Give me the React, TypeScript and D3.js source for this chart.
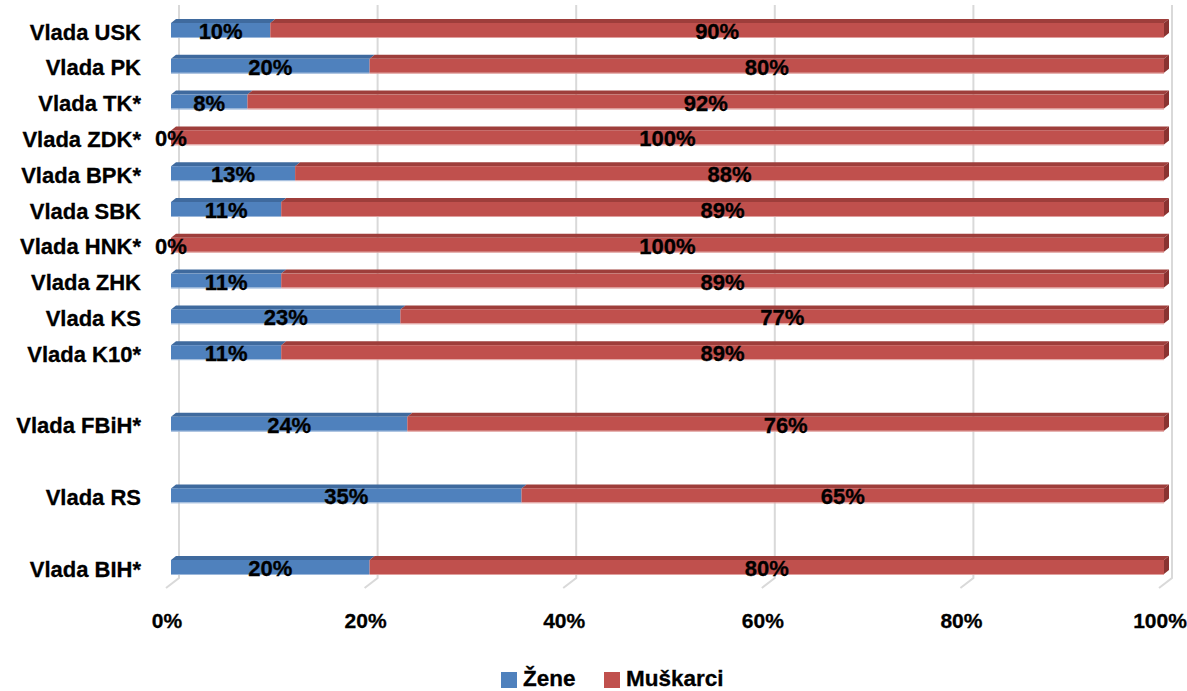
import React from "react";
import * as d3 from "d3";

const categories = [
  "Vlada USK", "Vlada PK", "Vlada TK*", "Vlada ZDK*", "Vlada BPK*", "Vlada SBK",
  "Vlada HNK*", "Vlada ZHK", "Vlada KS", "Vlada K10*", "", "Vlada FBiH*", " ",
  "Vlada RS", "  ", "Vlada BIH*",
];
const zene: (number | null)[] = [10, 20, 7.7, 0, 12.5, 11.1, 0, 11.1, 23.1, 11.1, null, 23.8, null, 35.3, null, 20];
const muskarci: (number | null)[] = [90, 80, 92.3, 100, 87.5, 88.9, 100, 88.9, 76.9, 88.9, null, 76.2, null, 64.7, null, 80];
const ticks = [0, 20, 40, 60, 80, 100];
const seriesNames = ["Žene", "Muškarci"];

const W = 1187;
const H = 691;
const FONT = "'Liberation Sans', Arial, sans-serif";

const colors = [
  { front: "#4F81BD", top: "#3F6A9E", side: "#35598A", edge: "#9BB7DA" },
  { front: "#C0504D", top: "#9E3E3B", side: "#8A3331", edge: "#E0A09E" },
];

export default function App() {
  const x = d3.scaleLinear().domain([0, 100]).range([179, 1172]);
  const y = d3.scaleBand<string>().domain(categories).range([12.1, 584.9]).padding(0);
  const frontDx = -8;
  const barH = 14;
  const depthX = 5;
  const depthY = -4;
  const gridTop = 5;
  const gridBottom = 578;

  const bars: React.ReactNode[] = [];
  const labels: React.ReactNode[] = [];
  categories.forEach((c, i) => {
    const zv = zene[i];
    const mv = muskarci[i];
    if (zv == null || mv == null) return;
    const cy = (y(c) as number) + y.bandwidth() / 2;
    const y0 = cy - barH / 2;
    const segs = [
      { v0: 0, v1: zv, col: colors[0], val: zv },
      { v0: zv, v1: zv + mv, col: colors[1], val: mv },
    ];
    segs.forEach((s, k) => {
      const xa = x(s.v0) + frontDx;
      const xb = x(Math.min(100, s.v1)) + frontDx;
      if (xb - xa > 0.01) {
        bars.push(
          <path
            key={`t${i}-${k}`}
            d={`M${xa},${y0} L${xa + depthX},${y0 + depthY} L${xb + depthX},${y0 + depthY} L${xb},${y0} Z`}
            fill={s.col.top}
          />
        );
        bars.push(
          <rect key={`f${i}-${k}`} x={xa} y={y0} width={xb - xa} height={barH} fill={s.col.front} />
        );
        bars.push(
          <line key={`e${i}-${k}`} x1={xa} x2={xb} y1={y0 + barH + 0.5} y2={y0 + barH + 0.5} stroke={s.col.edge} strokeWidth={1} />
        );
        if (k === 1) {
          bars.push(
            <path
              key={`s${i}-${k}`}
              d={`M${xb},${y0} L${xb + depthX},${y0 + depthY} L${xb + depthX},${y0 + depthY + barH} L${xb},${y0 + barH} Z`}
              fill={s.col.side}
            />
          );
        }
      }
      labels.push(
        <text
          key={`l${i}-${k}`}
          x={(xa + xb) / 2}
          y={cy + 1.5}
          textAnchor="middle"
          dominantBaseline="central"
          fontFamily={FONT}
          fontWeight="bold"
          fontSize={22}
          fill="#000"
          stroke="#000"
          strokeWidth={0.3}
        >
          {`${Math.round(s.val)}%`}
        </text>
      );
    });
  });

  return (
    <svg
      width={W}
      height={H}
      viewBox={`0 0 ${W} ${H}`}
      style={{ position: "absolute", left: 0, top: 0, background: "#fff" }}
    >
      <rect width={W} height={H} fill="#fff" />
      {ticks.map((t) => (
        <g key={`g${t}`}>
          <path
            d={`M${x(t)},${gridTop} L${x(t)},${gridBottom} L${x(t) - 13},${gridBottom + 10}`}
            fill="none"
            stroke="#D9D9D9"
            strokeWidth={2}
          />
          <text
            x={x(t) - 12}
            y={620}
            textAnchor="middle"
            dominantBaseline="central"
            fontFamily={FONT}
            fontWeight="bold"
            fontSize={21}
            fill="#000"
            stroke="#000"
            strokeWidth={0.3}
          >
            {`${t}%`}
          </text>
        </g>
      ))}
      {bars}
      {labels}
      {categories.map((c) =>
        c.trim() ? (
          <text
            key={`c${c}`}
            x={141}
            y={(y(c) as number) + y.bandwidth() / 2 + 2}
            textAnchor="end"
            dominantBaseline="central"
            fontFamily={FONT}
            fontWeight="bold"
            fontSize={22}
            fill="#000"
            stroke="#000"
            strokeWidth={0.3}
          >
            {c}
          </text>
        ) : null
      )}
      <g>
        {seriesNames.map((n, i) => {
          const lx = i === 0 ? 501 : 604;
          return (
            <g key={n}>
              <rect x={lx} y={672} width={16} height={16} fill={colors[i].front} />
              <text
                x={lx + 22}
                y={686}
                fontFamily={FONT}
                fontWeight="bold"
                fontSize={22.5}
                fill="#000"
                stroke="#000"
                strokeWidth={0.3}
              >
                {n}
              </text>
            </g>
          );
        })}
      </g>
    </svg>
  );
}
